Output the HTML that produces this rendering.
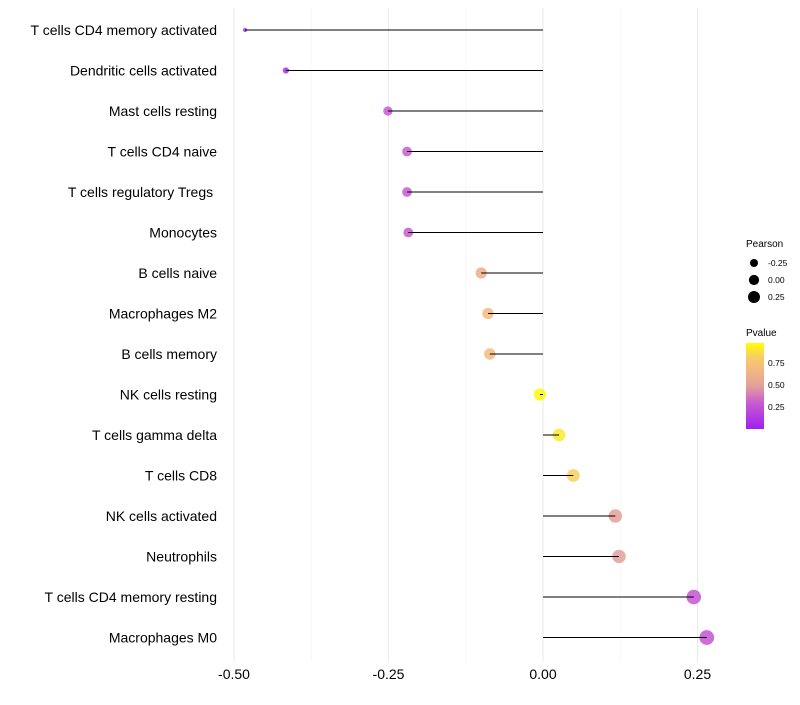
<!DOCTYPE html>
<html><head><meta charset="utf-8"><style>
body{margin:0;background:#fff;font-family:"Liberation Sans",sans-serif}
</style></head><body>
<svg id="c" width="800" height="700" xmlns="http://www.w3.org/2000/svg">
<defs><linearGradient id="g" x1="0" y1="1" x2="0" y2="0">
<stop offset="0" stop-color="#A020F0"/><stop offset="0.3" stop-color="#C85AD0"/><stop offset="0.5" stop-color="#E4A09A"/><stop offset="0.7" stop-color="#F2BA80"/><stop offset="0.85" stop-color="#F7D060"/><stop offset="1" stop-color="#FFFF00"/></linearGradient></defs>
<g id="grid"></g><g id="points"></g><g id="stems"></g><g id="labels"></g>
<g font-size="10" fill="#000">
<text x="746" y="247">Pearson</text>
<circle cx="754" cy="263" r="4" fill="#000"/><text x="768" y="266" font-size="8.5">-0.25</text>
<circle cx="754" cy="280" r="5.1" fill="#000"/><text x="768" y="283" font-size="8.5">0.00</text>
<circle cx="754" cy="297" r="6" fill="#000"/><text x="768" y="300" font-size="8.5">0.25</text>
<text x="746" y="336">Pvalue</text>
<rect x="746" y="343" width="18" height="86" fill="url(#g)"/>
<text x="768" y="366" font-size="8.5">0.75</text>
<text x="768" y="388" font-size="8.5">0.50</text>
<text x="768" y="410" font-size="8.5">0.25</text>
</g>
</svg>
<script>
const cats=["T cells CD4 memory activated","Dendritic cells activated","Mast cells resting","T cells CD4 naive","T cells regulatory  Tregs\u00a0","Monocytes","B cells naive","Macrophages M2","B cells memory","NK cells resting","T cells gamma delta","T cells CD8","NK cells activated","Neutrophils","T cells CD4 memory resting","Macrophages M0"];
const pearson=[-0.482,-0.416,-0.251,-0.220,-0.220,-0.218,-0.100,-0.089,-0.086,-0.005,0.026,0.049,0.117,0.123,0.244,0.265];
const pvals=[0.02,0.08,0.3,0.3,0.3,0.3,0.6,0.7,0.7,0.99,0.93,0.85,0.5,0.5,0.28,0.27];
const xTicks=[-0.5,-0.25,0,0.25];
const xTickLabels=["-0.50","-0.25","0.00","0.25"];
const NS="http://www.w3.org/2000/svg";
const X=v=>543+v*618, Y=i=>30+i*40.5;
function mk(t,a,p){const e=document.createElementNS(NS,t);for(const k in a)e.setAttribute(k,a[k]);p.appendChild(e);return e;}
function lerp(a,b,t){return a.map((x,i)=>Math.round(x+(b[i]-x)*t));}
function col(p){const s=[[0,[160,32,240]],[0.3,[200,90,208]],[0.5,[228,160,154]],[0.7,[242,186,128]],[0.85,[247,208,96]],[1,[255,255,0]]];
for(let i=1;i<s.length;i++)if(p<=s[i][0]){const t=(p-s[i-1][0])/(s[i][0]-s[i-1][0]);return "rgb("+lerp(s[i-1][1],s[i][1],t).join(",")+")";}return "rgb(255,255,0)";}
const grid=document.getElementById('grid'),points=document.getElementById('points'),stems=document.getElementById('stems'),labels=document.getElementById('labels');
[-0.375,-0.125,0.125].forEach(v=>{const l=mk('line',{x1:X(v),x2:X(v),y1:8,y2:662,stroke:"#f2f2f2","stroke-width":0.6},grid);

});
xTicks.forEach((v,i)=>{const l=mk('line',{x1:X(v),x2:X(v),y1:8,y2:662,stroke:"#ebebeb","stroke-width":1.1},grid);


const t=mk('text',{x:X(v),y:679,"text-anchor":"middle","font-size":14,fill:"#000"},labels);t.textContent=xTickLabels[i];

});
cats.forEach((c,i)=>{const y=Y(i);
const t=mk('text',{x:217,y:y+5,"text-anchor":"end","font-size":14,fill:"#000"},labels);t.textContent=c;


const r=1+7.3*Math.sqrt(Math.max(pearson[i]+0.5,0));
const d=mk('circle',{cx:X(pearson[i]),cy:y,r:r,fill:col(pvals[i]),"fill-opacity":0.85},points);


const l=mk('line',{x1:X(0),x2:X(pearson[i]),y1:y,y2:y,stroke:"#000","stroke-width":1},stems);

});
</script>
</body></html>
